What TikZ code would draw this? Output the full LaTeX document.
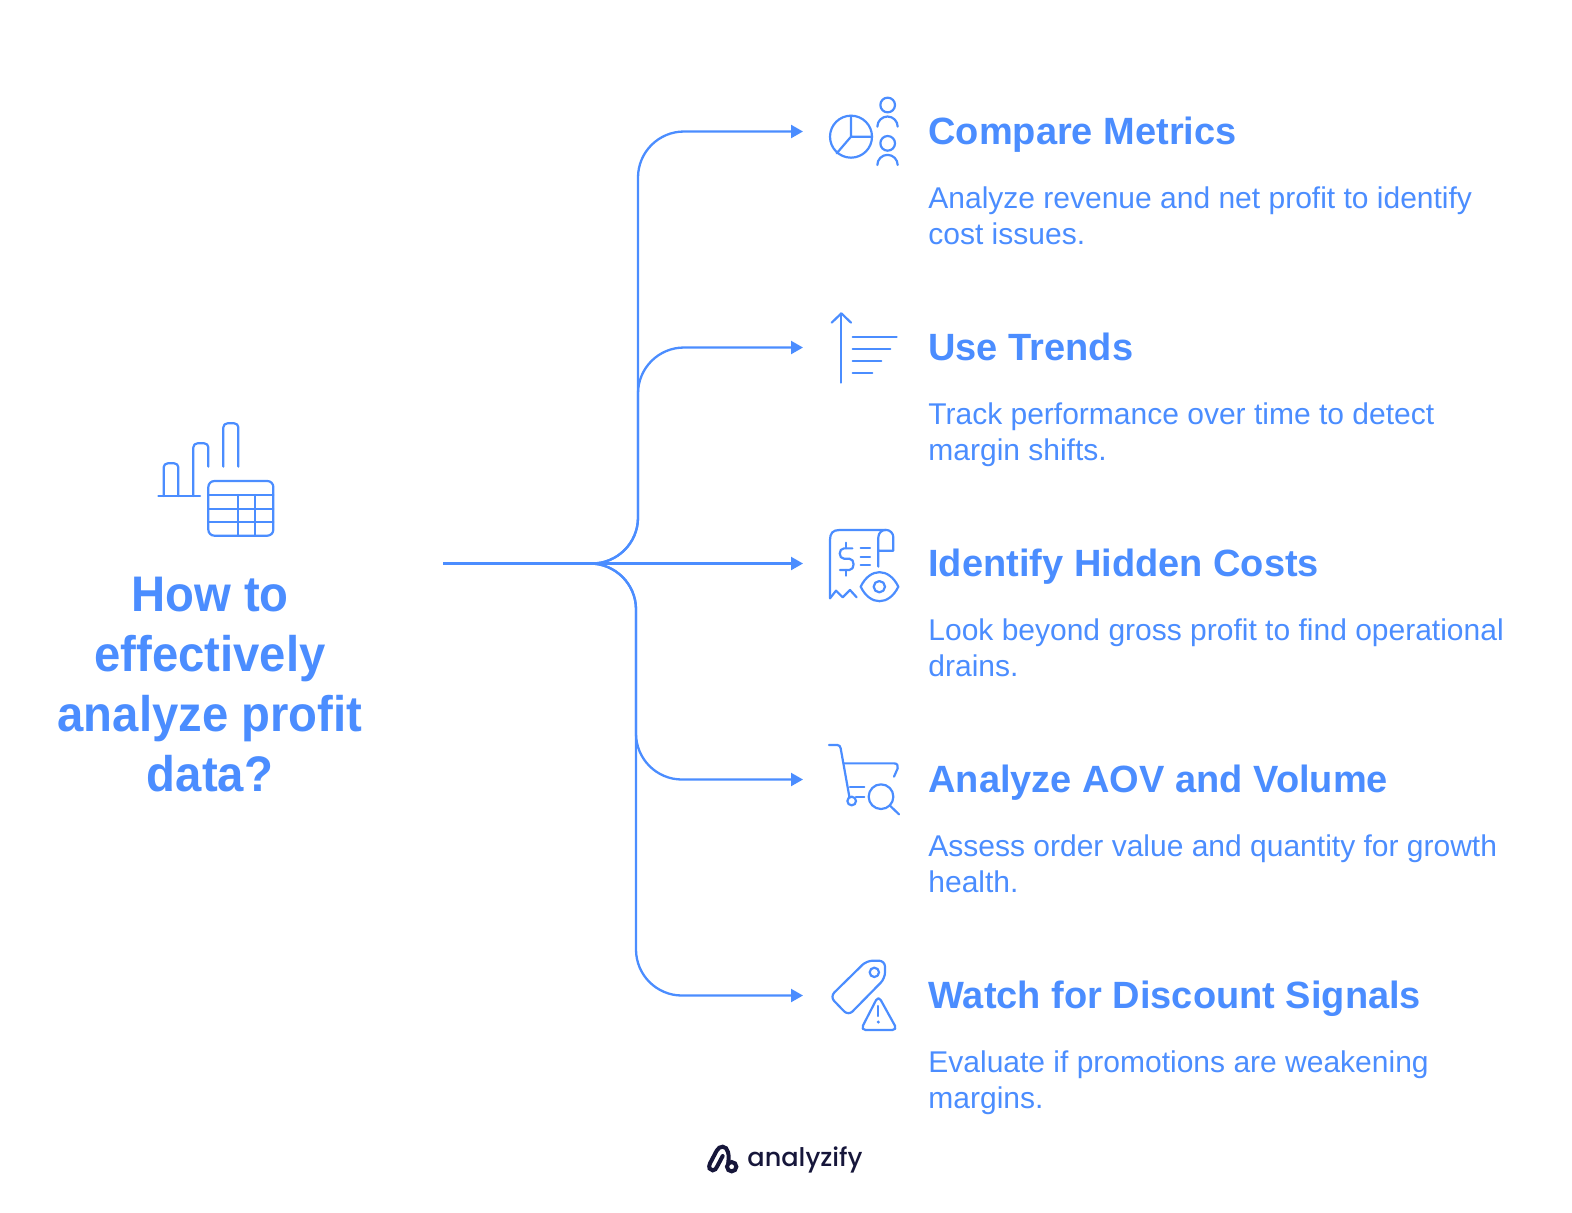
\documentclass[tikz,border=0pt]{standalone}
\usepackage{fontspec}
\setmainfont{Liberation Sans}
\newfontfamily\logofont{Poppins Medium}
\usetikzlibrary{arrows.meta,positioning}
\definecolor{brandblue}{RGB}{75,141,255}
\definecolor{logonavy}{RGB}{22,22,58}

\begin{document}
\begin{tikzpicture}[x=0.5pt,y=-0.5pt]

\tikzset{every node/.style = {inner sep=0pt,text=brandblue}}
\tikzset{link/.style = {draw=brandblue,line width=1.15pt,rounded corners=23pt,-{Triangle[length=6pt,width=6.5pt]}}}
\tikzset{icon/.style = {draw=brandblue,line width=1.1pt,line cap=round,line join=round}}
\tikzset{heading/.style = {anchor=base west,font=\bfseries\fontsize{19}{23}\selectfont}}
\tikzset{detail/.style = {align=left,font=\fontsize{15}{18}\selectfont}}

\useasboundingbox (0,0) rectangle (1572,1212);

\node[align=center,font=\bfseries\addfontfeature{FakeStretch=0.945}\fontsize{25}{30}\selectfont] (title) at (210,685) {How to\\effectively\\analyze profit\\data?};

\node[heading] (compare)  at (928,144.5)  {Compare Metrics};
\node[heading] (trends)   at (928,360.5)  {Use Trends};
\node[heading] (hidden)   at (928,576.5)  {Identify Hidden Costs};
\node[heading] (volume)   at (928,792.5)  {Analyze AOV and Volume};
\node[heading] (discount) at (928,1008.5) {Watch for Discount Signals};

\node[detail] (compare_d)  [below right=21pt and 0pt of compare.base west]  {Analyze revenue and net profit to identify\\cost issues.};
\node[detail] (trends_d)   [below right=21pt and 0pt of trends.base west]   {Track performance over time to detect\\margin shifts.};
\node[detail] (hidden_d)   [below right=21pt and 0pt of hidden.base west]   {Look beyond gross profit to find operational\\drains.};
\node[detail] (volume_d)   [below right=21pt and 0pt of volume.base west]   {Assess order value and quantity for growth\\health.};
\node[detail] (discount_d) [below right=21pt and 0pt of discount.base west] {Evaluate if promotions are weakening\\margins.};

\coordinate (hub)    at (443,563.5);
\coordinate (fork)   at (590,563.5);
\coordinate (tip_a)  at (803,131.5);
\coordinate (tip_b)  at (803,347.5);
\coordinate (tip_c)  at (803,563.5);
\coordinate (tip_d)  at (803,779.5);
\coordinate (tip_e)  at (803,995.5);
\coordinate (bend_a) at (638,131.5);
\coordinate (bend_b) at (638,347.5);
\coordinate (bend_d) at (636,779.5);
\coordinate (bend_e) at (636,995.5);

\draw[link] (fork) -| (bend_a) -- (tip_a);
\draw[link] (fork) -| (bend_b) -- (tip_b);
\draw[link] (hub) -- (tip_c);
\draw[link] (fork) -| (bend_d) -- (tip_d);
\draw[link] (fork) -| (bend_e) -- (tip_e);

\begin{scope}[shift={(150,415)},scale=1/3]
\draw[icon] (25,243) -- (150,243);
\draw[icon,rounded corners=2pt] (41,243) |- (85,145) -- (85,243);
\draw[icon,rounded corners=2pt] (130,243) |- (175,85) -- (175,155);
\draw[icon,rounded corners=2pt] (220,155) |- (265,25) -- (265,155);
\draw[icon,rounded corners=3pt] (175,198) rectangle (370,362);
\draw[icon] (175,240) -- (370,240) (175,282) -- (370,282) (175,322) -- (370,322);
\draw[icon] (265,240) -- (265,362) (315,240) -- (315,362);
\end{scope}

\begin{scope}[shift={(820,85)},scale=1/3]
\draw[icon] (93,155) circle (63);
\draw[icon] (93,92) -- (93,155) -- (156,155) (93,155) -- (50,205);
\draw[icon] (203,60) circle (22);
\draw[icon] (172,125) arc (180:360:30.5);
\draw[icon] (203,175) circle (22);
\draw[icon] (172,240) arc (180:360:30.5);
\end{scope}

\begin{scope}[shift={(820,300)},scale=1/3]
\draw[icon] (64,248) -- (64,40);
\draw[icon] (35,68) -- (64,40) -- (93,68);
\draw[icon] (98,112) -- (230,112);
\draw[icon] (98,148) -- (211,148);
\draw[icon] (98,184) -- (184,184);
\draw[icon] (98,220) -- (157,220);
\end{scope}

\begin{scope}[shift={(820,520)},scale=1/3]
\draw[icon] (30,235) -- (30,60) .. controls (30,40) and (38,30) .. (58,30) -- (197,30);
\draw[icon] (30,235) -- (48,212) -- (68,232) -- (90,210) -- (110,232);
\draw[icon] (175,140) -- (175,52) arc (180:360:22.5) -- (220,92) -- (175,92);
\draw[icon] (97,85) -- (72,85) .. controls (55,85) and (55,116) .. (72,116) -- (88,116) .. controls (105,116) and (105,150) .. (88,150) -- (60,150);
\draw[icon] (78,68) -- (78,85) (78,150) -- (78,167);
\draw[icon] (122,85) -- (150,85) (122,110) -- (150,110) (122,135) -- (150,135);
\draw[icon] (122,200) .. controls (150,142) and (207,142) .. (235,200) .. controls (207,258) and (150,258) .. (122,200) -- cycle;
\draw[icon] (178,200) circle (17);
\end{scope}

\begin{scope}[shift={(820,735)},scale=1/3]
\draw[icon] (27,30) -- (52,30) .. controls (58,30) and (61,34) .. (62,40) -- (88,185);
\draw[icon] (72,85) -- (222,85) .. controls (232,85) and (235,92) .. (233,100) -- (222,125);
\draw[icon] (90,155) -- (133,155) (108,185) -- (133,185);
\draw[icon] (95,198) circle (13);
\draw[icon] (183,185) circle (37);
\draw[icon] (210,212) -- (237,238);
\end{scope}

\begin{scope}[shift={(820,950)},scale=1/3]
\draw[icon,rounded corners=3pt] (140,32) -- (195,32) -- (195,85) -- (85,197) -- (30,140) -- cycle;
\draw[icon] (163,67) circle (14);
\draw[icon,rounded corners=2.5pt] (175,137) -- (232,240) -- (122,240) -- cycle;
\draw[icon] (175,168) -- (175,198);
\fill[brandblue] (175,216) circle (5);
\end{scope}

\begin{scope}[shift={(700,1136)},scale=1/3]
\draw[draw=logonavy,line width=2pt,line cap=round] (85,80) .. controls (88,60) and (85,32) .. (68,32) .. controls (60,32) and (55,36) .. (50,44) -- (30,82) .. controls (24,95) and (30,103) .. (38,103) .. controls (45,103) and (48,98) .. (51,92) -- (68,60);
\draw[draw=logonavy,line width=2pt] (95,92) circle (14);
\end{scope}
\node[text=logonavy,font=\logofont\fontsize{12.8}{16}\selectfont] (brand) at (805,1160) {analyzify};

\end{tikzpicture}
\end{document}
